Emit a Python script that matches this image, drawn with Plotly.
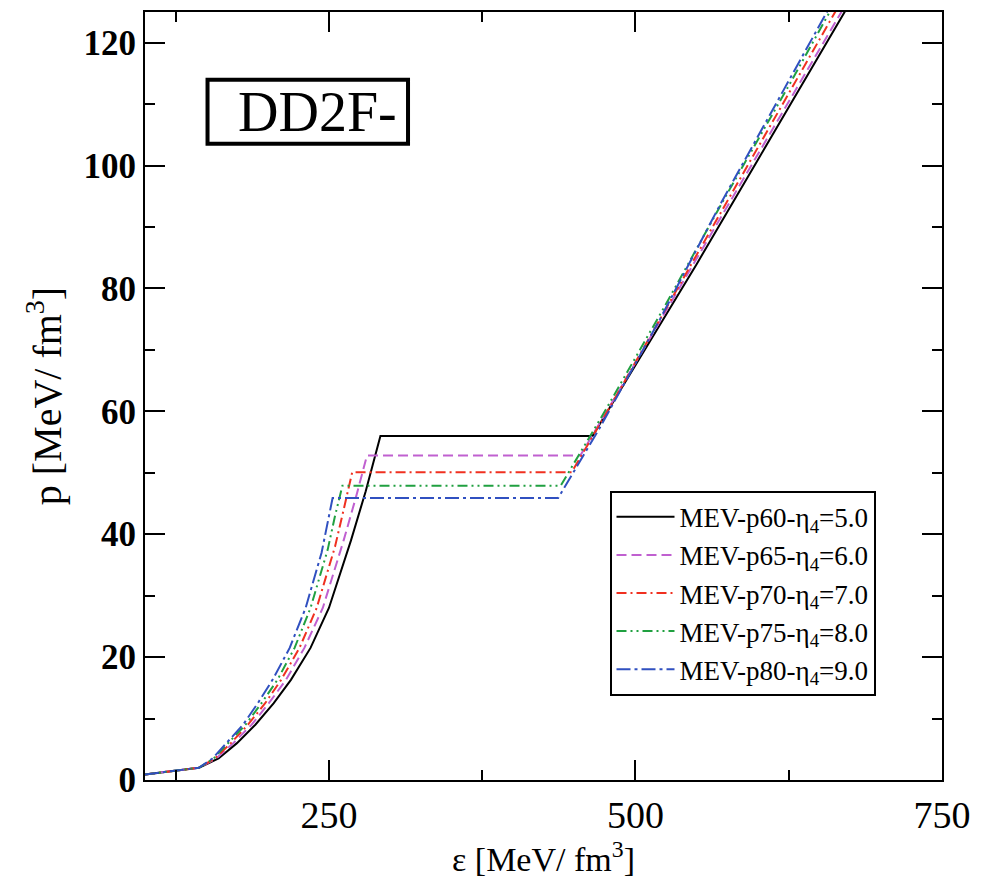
import plotly.graph_objects as go

# ---------------- data ----------------
names = ["MEV-p60-η<sub>4</sub>=5.0", "MEV-p65-η<sub>4</sub>=6.0", "MEV-p70-η<sub>4</sub>=7.0",
         "MEV-p75-η<sub>4</sub>=8.0", "MEV-p80-η<sub>4</sub>=9.0"]

p_had_common = [0.9, 1.4, 2.0, 3.5, 6.0, 9.0, 12.5, 16.3, 21.5, 28.0]

eps_had_p60 = [100, 120, 144, 160, 175, 190, 205, 219, 235, 250, 268, 280, 292]
p_had_p60 = p_had_common + [39.0, 47.0, 56.0]
eps_had_p65 = [100, 120, 144, 158, 172, 187, 201, 215, 230, 245, 262, 272, 281]
p_had_p65 = p_had_common + [39.0, 46.0, 52.8]
eps_had_p70 = [100, 120, 144, 157, 170, 184, 198, 211, 226, 240, 255, 262, 269]
p_had_p70 = p_had_common + [38.0, 44.0, 50.1]
eps_had_p75 = [100, 120, 144, 156, 168, 182, 195, 208, 222, 235, 249, 255, 261]
p_had_p75 = p_had_common + [37.5, 43.0, 47.9]
eps_had_p80 = [100, 120, 144, 155, 166, 180, 192, 204, 218, 231, 244, 249, 253]
p_had_p80 = p_had_common + [37.0, 42.0, 45.9]

eps_q_p60 = [465, 500, 550, 600, 650, 700]
p_q_p60 = [56.0, 67.5, 84.0, 101.0, 118.0, 135.0]
eps_q_p65 = [455, 490, 540, 590, 640, 690]
p_q_p65 = [52.8, 64.5, 81.5, 98.5, 115.5, 132.5]
eps_q_p70 = [448, 480, 530, 580, 630, 680]
p_q_p70 = [50.1, 61.0, 78.5, 96.0, 113.5, 131.0]
eps_q_p75 = [439, 475, 525, 575, 625, 675]
p_q_p75 = [47.9, 60.0, 77.5, 95.5, 113.0, 131.0]
eps_q_p80 = [437, 470, 520, 570, 620, 670]
p_q_p80 = [45.9, 57.0, 75.0, 94.0, 112.0, 130.0]

x_ticks = [250, 500, 750]
y_ticks = [0, 20, 40, 60, 80, 100, 120]

# ---------------- styles ----------------
colors = ["#000000", "#C060D0", "#F03020", "#20A040", "#3050C0"]
dashes = ["solid", "10px,5px", "10px,4px,2px,4px", "10px,4px,2px,4px,2px,4px", "14px,4px,3px,4px"]

series = [
    (eps_had_p60, p_had_p60, eps_q_p60, p_q_p60),
    (eps_had_p65, p_had_p65, eps_q_p65, p_q_p65),
    (eps_had_p70, p_had_p70, eps_q_p70, p_q_p70),
    (eps_had_p75, p_had_p75, eps_q_p75, p_q_p75),
    (eps_had_p80, p_had_p80, eps_q_p80, p_q_p80),
]

fig = go.Figure()
for i, (eh, ph, eq, pq) in enumerate(series):
    fig.add_trace(go.Scatter(
        x=list(eh) + list(eq), y=list(ph) + list(pq), mode="lines", name=names[i],
        legendgroup=str(i),
        line=dict(color=colors[i], width=2, dash=dashes[i]),
    ))

W, H = 981, 879
L, R, T, B = 145, 33, 10, 99
pw, ph_ = W - L - R, H - T - B

def px(xp):
    return (xp - L) / pw

def py(yp):
    return (H - B - yp) / ph_

font = "Liberation Serif, Times New Roman, serif"

fig.update_layout(
    width=W, height=H,
    margin=dict(l=L, r=R, t=T, b=B),
    paper_bgcolor="white", plot_bgcolor="white",
    font=dict(family=font, color="black"),
    showlegend=True,
    legend=dict(x=px(613), y=py(490), xanchor="left", yanchor="top",
                bordercolor="black", borderwidth=2, bgcolor="white",
                font=dict(size=27, family=font), tracegroupgap=0, itemwidth=58),
    xaxis=dict(range=[100, 750], tickvals=x_ticks, ticks="inside", ticklen=20, tickwidth=2,
               tickcolor="black", showline=True, linewidth=2, linecolor="black", mirror="ticks",
               showgrid=False, zeroline=False, tickfont=dict(size=38, family=font),
               ticklabeloverflow="allow",
               minor=dict(dtick=125, tick0=0, ticks="inside", ticklen=10, tickwidth=2, tickcolor="black", showgrid=False),
               title=dict(text="ε [MeV/ fm<sup>3</sup>]", font=dict(size=34, family=font), standoff=2)),
    yaxis=dict(range=[0, 125], tickvals=y_ticks, ticks="inside", ticklen=20, tickwidth=2,
               tickcolor="black", showline=True, linewidth=2, linecolor="black", mirror="ticks",
               showgrid=False, zeroline=False, tickfont=dict(size=35, family=font, weight="bold"),
               minor=dict(dtick=10, tick0=0, ticks="inside", ticklen=10, tickwidth=2, tickcolor="black", showgrid=False),
               title=dict(text="p [MeV/ fm<sup>3</sup>]", font=dict(size=40, family=font), standoff=10)),
)

fig.add_shape(type="rect", xref="paper", yref="paper",
              x0=px(208), x1=px(410), y0=py(142), y1=py(78),
              line=dict(color="black", width=4), fillcolor="white", layer="above")
fig.add_annotation(xref="paper", yref="paper", x=px(401), y=py(110), xanchor="right", yanchor="middle",
                   text="DD2F-", showarrow=False, font=dict(size=56, family=font, color="black"))

fig.write_html("out.html", config={"displayModeBar": False},
               post_script="document.body.style.margin='0px';document.body.style.overflow='hidden';")
